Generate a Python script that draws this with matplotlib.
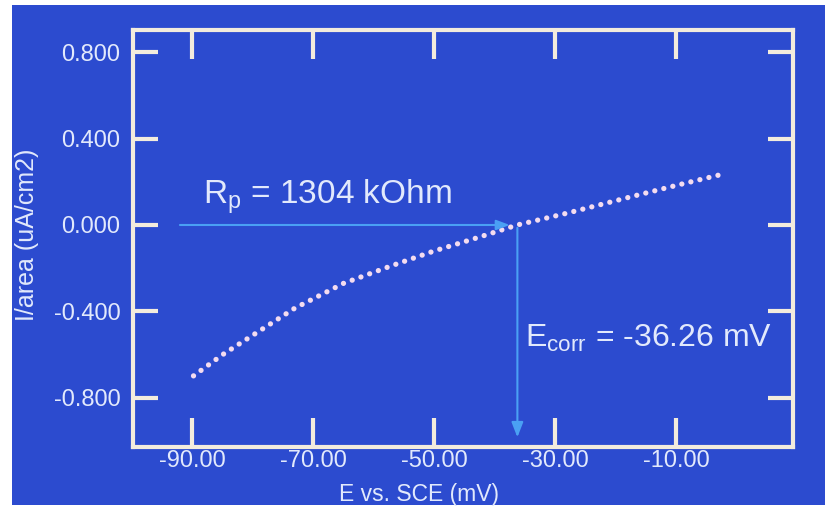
import matplotlib
matplotlib.use('Agg')
import matplotlib.pyplot as plt
from matplotlib.patches import Rectangle
from matplotlib.ticker import FormatStrFormatter

# polarization data
e_mv = [-89.8, -85.0, -80.0, -73.0, -65.0, -57.0, -50.0, -43.0, -36.3, -28.0, -22.0, -16.3, -9.0, -2.2]
i_area = [-0.698, -0.60, -0.51, -0.384, -0.27, -0.188, -0.12, -0.06, 0.0, 0.055, 0.098, 0.139, 0.19, 0.236]

x_ticks = [-90, -70, -50, -30, -10]
y_ticks = [-0.8, -0.4, 0.0, 0.4, 0.8]

e_corr = -36.26
rp_label = 'R$_\\mathregular{p}$ = 1304 kOhm'
ecorr_label = 'E$_\\mathregular{corr}$ = -36.26 mV'

BG = '#2c4bcf'
FRAME = '#f3ecdd'
TEXT = '#e2e9fc'
ARROW = '#4aa0f4'
DOTS = '#f4dcf0'

plt.rcParams['font.family'] = ['Liberation Sans', 'DejaVu Sans']

fig = plt.figure(figsize=(8.25, 5.09), dpi=100, facecolor='white')
fig.patches.append(Rectangle((12 / 825, 4 / 509), 1 - 12 / 825, 500 / 509,
                             transform=fig.transFigure, facecolor=BG, edgecolor='none', zorder=-10))

ax = fig.add_axes([133 / 825, 62 / 509, 660 / 825, 417 / 509])
ax.set_facecolor(BG)
ax.set_xlim(-99.8, 9.3)
ax.set_ylim(-1.027, 0.902)

ax.plot(e_mv, i_area, color=DOTS, linewidth=3.8, linestyle=(0, (0.01, 1.75)),
        dash_capstyle='round', solid_capstyle='round', zorder=3)

# Rp arrow (horizontal) and Ecorr arrow (vertical)
ax.annotate('', xy=(e_corr - 0.8, 0.0), xytext=(-92.5, 0.0),
            arrowprops=dict(arrowstyle='-|>,head_length=0.8,head_width=0.3', color=ARROW, lw=1.5))
ax.annotate('', xy=(e_corr, -0.995), xytext=(e_corr, 0.0),
            arrowprops=dict(arrowstyle='-|>,head_length=0.9,head_width=0.35', color=ARROW, lw=1.5))

ax.text(-88.3, 0.102, rp_label, color=TEXT, fontsize=24, ha='left', va='baseline')
ax.text(-35.0, -0.564, ecorr_label, color=TEXT, fontsize=23, ha='left', va='baseline')

ax.set_xticks(x_ticks)
ax.set_yticks(y_ticks)
ax.xaxis.set_major_formatter(FormatStrFormatter('%.2f'))
ax.yaxis.set_major_formatter(FormatStrFormatter('%.3f'))
ax.tick_params(axis='x', direction='in', length=21, width=3, color=FRAME,
               labelcolor=TEXT, labelsize=17, pad=2, top=True)
ax.tick_params(axis='y', direction='in', length=18, width=3, color=FRAME,
               labelcolor=TEXT, labelsize=17, pad=9, right=True)
for s in ax.spines.values():
    s.set_color(FRAME)
    s.set_linewidth(3)

ax.set_xlabel('E vs. SCE (mV)', color=TEXT, fontsize=16.5)
ax.xaxis.set_label_coords(0.433, -0.086)
ax.set_ylabel('I/area (uA/cm2)', color=TEXT, fontsize=18)
ax.yaxis.set_label_coords(-0.142, 0.508)

fig.savefig('out.png', dpi=100, facecolor=fig.get_facecolor())
plt.close(fig)
